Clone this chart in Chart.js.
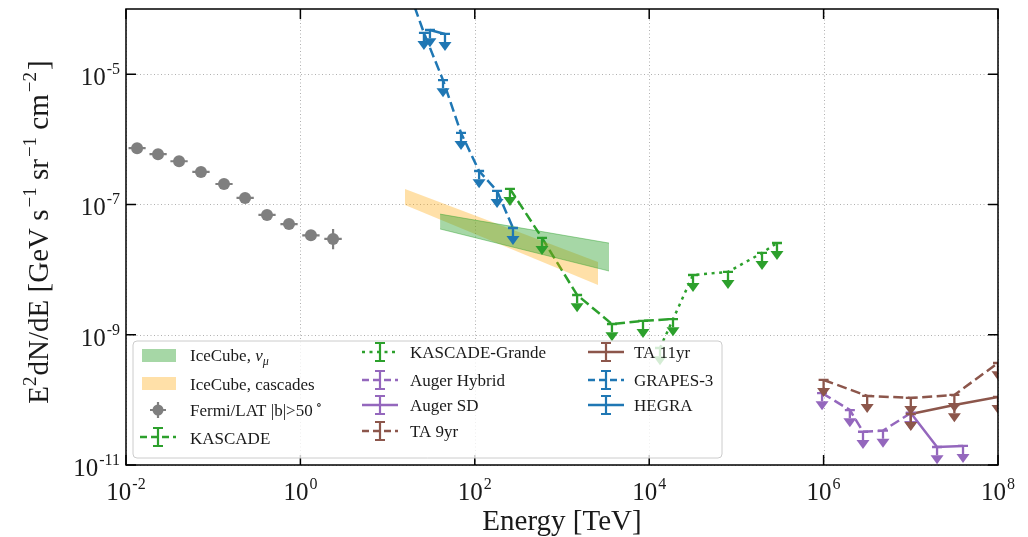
<!DOCTYPE html>
<html><head><meta charset="utf-8">
<script src="https://cdn.jsdelivr.net/npm/chart.js@4/dist/chart.umd.min.js"></script>
<style>html,body{margin:0;padding:0;background:#fff;}#wrap{width:1028px;height:537px;}</style>
</head><body><div id="wrap"><canvas id="c" width="1028" height="537"></canvas></div>
<script>
// ---------------- data ----------------
const xTickVals = [1e-2, 1, 1e2, 1e4, 1e6, 1e8];
const xTickExp  = ['-2', '0', '2', '4', '6', '8'];
const yTickVals = [1e-11, 1e-9, 1e-7, 1e-5];
const yTickExp  = ['-11', '-9', '-7', '-5'];

const iceMuE  = [40, 3460];
const iceMuHi = [7.1e-8, 2.55e-8];
const iceMuLo = [4.2e-8, 9.5e-9];

const iceCasE  = [15.8, 2590];
const iceCasHi = [1.73e-7, 1.31e-8];
const iceCasLo = [9.8e-8, 5.8e-9];

const fermiE   = [0.0134, 0.0233, 0.0406, 0.0724, 0.133, 0.232, 0.414, 0.74, 1.32, 2.37];
const fermiF   = [7.3e-7, 5.9e-7, 4.6e-7, 3.15e-7, 2.06e-7, 1.26e-7, 6.9e-8, 5.0e-8, 3.36e-8, 2.95e-8];
const fermiELo = [0.0107, 0.0186, 0.0323, 0.0576, 0.106, 0.185, 0.33, 0.59, 1.05, 1.88];
const fermiEHi = [0.0168, 0.0293, 0.051, 0.091, 0.167, 0.292, 0.52, 0.93, 1.66, 2.98];
const fermiFLo = [6.9e-7, 5.6e-7, 4.35e-7, 2.98e-7, 1.94e-7, 1.18e-7, 6.4e-8, 4.6e-8, 2.9e-8, 2.05e-8];
const fermiFHi = [7.7e-7, 6.2e-7, 4.85e-7, 3.32e-7, 2.18e-7, 1.34e-7, 7.4e-8, 5.4e-8, 3.85e-8, 4.2e-8];

const kascadeE = [253, 590, 1490, 3740, 8490, 18750];
const kascadeF = [1.73e-7, 3.06e-8, 4.07e-9, 1.46e-9, 1.63e-9, 1.74e-9];

const grandeE = [13300, 31800, 80100, 196700, 292000];
const grandeF = [6.25e-10, 8.26e-9, 9.19e-9, 1.80e-8, 2.56e-8];

const augerHybE = [9.6e5, 2.0e6, 2.83e6, 4.8e6, 1.0e7];
const augerHybF = [1.27e-10, 6.98e-11, 3.24e-11, 3.37e-11, 6.28e-11];

const augerSdE = [1.0e7, 2.0e7, 3.97e7];
const augerSdF = [6.28e-11, 1.89e-11, 1.96e-11];

const ta9E = [1.0e6, 3.16e6, 1.0e7, 3.16e7, 1.0e8];
const ta9F = [2.02e-10, 1.15e-10, 1.07e-10, 1.19e-10, 3.68e-10];

const ta11E = [1.0e7, 3.16e7, 1.0e8];
const ta11F = [6.07e-11, 8.34e-11, 1.11e-10];

const grapesE = [15.8, 26.1, 43.2, 69.5, 112, 180, 274];
const grapesF = [2.8e-4, 4.3e-5, 8.1e-6, 1.25e-6, 3.26e-7, 1.61e-7, 4.35e-8];

const hegraE = [30.6, 45.5];
const hegraF = [4.76e-5, 4.14e-5];

// ---------------- styles ----------------
const GREEN = '#2ca02c', PURPLE = '#9467bd', BROWN = '#8c564b', BLUE = '#1f77b4', GRAY = '#7f7f7f';
const BAND_G = 'rgba(44,160,44,0.42)', BAND_O = 'rgba(255,165,0,0.34)';
const DASH = [10, 4.5], DOT = [3, 4.6];
const SERIF = "'Liberation Serif','DejaVu Serif',serif";
const UL_FRAC = 0.75;

const pts = (xs, ys) => xs.map((v, i) => ({x: v, y: ys[i]}));
function lineDs(label, xs, ys, color, dash) {
  return {label, data: pts(xs, ys), borderColor: color, backgroundColor: color, borderWidth: 2.5,
    borderDash: dash, pointRadius: 0, showLine: true, fill: false, tension: 0, ul: true};
}

const datasets = [
  {label: 'IceCube, nu_mu', data: pts(iceMuE, iceMuHi), borderColor: BAND_G, backgroundColor: BAND_G, borderWidth: 1, pointRadius: 0, fill: '+1', tension: 0},
  {label: '_iceMuLo', data: pts(iceMuE, iceMuLo), borderColor: BAND_G, backgroundColor: BAND_G, borderWidth: 1, pointRadius: 0, fill: false, tension: 0},
  {label: 'IceCube, cascades', data: pts(iceCasE, iceCasHi), borderColor: BAND_O, backgroundColor: BAND_O, borderWidth: 0, pointRadius: 0, fill: '+1', tension: 0},
  {label: '_iceCasLo', data: pts(iceCasE, iceCasLo), borderColor: BAND_O, backgroundColor: BAND_O, borderWidth: 0, pointRadius: 0, fill: false, tension: 0},
  {label: 'Fermi/LAT', data: pts(fermiE, fermiF), showLine: false, pointRadius: 6, pointBackgroundColor: GRAY, pointBorderColor: GRAY, pointBorderWidth: 0, borderColor: GRAY, fermi: true},
  lineDs('KASCADE', kascadeE, kascadeF, GREEN, DASH),
  lineDs('KASCADE-Grande', grandeE, grandeF, GREEN, DOT),
  lineDs('Auger Hybrid', augerHybE, augerHybF, PURPLE, DASH),
  lineDs('Auger SD', augerSdE, augerSdF, PURPLE, []),
  lineDs('TA 9yr', ta9E, ta9F, BROWN, DASH),
  lineDs('TA 11yr', ta11E, ta11F, BROWN, []),
  lineDs('GRAPES-3', grapesE, grapesF, BLUE, DASH),
  lineDs('HEGRA', hegraE, hegraF, BLUE, []),
];

// ---------------- drawing helpers ----------------
function drawPow(ctx, base, exp, x, y, align, bf, ef, rise) {
  ctx.font = bf; const wb = ctx.measureText(base).width;
  ctx.font = ef; const we = ctx.measureText(exp).width;
  const tot = wb + we + 1;
  const x0 = align === 'center' ? x - tot / 2 : (align === 'right' ? x - tot : x);
  ctx.textAlign = 'left'; ctx.textBaseline = 'alphabetic';
  ctx.font = bf; ctx.fillText(base, x0, y);
  ctx.font = ef; ctx.fillText(exp, x0 + wb + 1, y - rise);
}
function drawSegs(ctx, segs, x, y, align) {
  let tot = 0;
  for (const s of segs) { ctx.font = s.f; tot += ctx.measureText(s.t).width + (s.gap || 0); }
  let cx = align === 'center' ? x - tot / 2 : x;
  ctx.textAlign = 'left'; ctx.textBaseline = 'alphabetic';
  for (const s of segs) { ctx.font = s.f; ctx.fillText(s.t, cx + (s.gap || 0), y - (s.rise || 0)); cx += ctx.measureText(s.t).width + (s.gap || 0); }
}
function ulMarks(ctx, X, Y, YL, color) {
  ctx.strokeStyle = color; ctx.fillStyle = color; ctx.lineWidth = 2.3; ctx.setLineDash([]);
  ctx.beginPath(); ctx.moveTo(X - 5, Y); ctx.lineTo(X + 5, Y); ctx.moveTo(X, Y); ctx.lineTo(X, YL); ctx.stroke();
  ctx.beginPath(); ctx.moveTo(X - 6.5, YL); ctx.lineTo(X + 6.5, YL); ctx.lineTo(X, YL + 9); ctx.closePath(); ctx.fill();
}
function legErr(ctx, x0, y, color, dash) {
  ctx.strokeStyle = color; ctx.lineWidth = 2.5; ctx.setLineDash(dash);
  ctx.beginPath(); ctx.moveTo(x0, y); ctx.lineTo(x0 + 36, y); ctx.stroke();
  ctx.setLineDash([]); ctx.lineWidth = 2.2;
  const cx = x0 + 18;
  ctx.beginPath(); ctx.moveTo(cx, y - 9); ctx.lineTo(cx, y + 9);
  ctx.moveTo(cx - 5, y - 9); ctx.lineTo(cx + 5, y - 9); ctx.moveTo(cx - 5, y + 9); ctx.lineTo(cx + 5, y + 9); ctx.stroke();
}

const decor = {
  id: 'decor',
  beforeDatasetsDraw(chart) {
    const {ctx, chartArea: a, scales: {x, y}} = chart;
    ctx.save();
    ctx.strokeStyle = '#b0b0b0'; ctx.lineWidth = 1; ctx.setLineDash([1, 2.5]);
    for (const t of xTickVals) { const X = Math.round(x.getPixelForValue(t)) + 0.5; ctx.beginPath(); ctx.moveTo(X, a.top); ctx.lineTo(X, a.bottom); ctx.stroke(); }
    for (const t of yTickVals) { const Y = Math.round(y.getPixelForValue(t)) + 0.5; ctx.beginPath(); ctx.moveTo(a.left, Y); ctx.lineTo(a.right, Y); ctx.stroke(); }
    ctx.setLineDash([]);
    ctx.strokeStyle = GRAY; ctx.lineWidth = 2.2;
    for (let i = 0; i < fermiE.length; i++) {
      const X = x.getPixelForValue(fermiE[i]), Y = y.getPixelForValue(fermiF[i]);
      ctx.beginPath();
      ctx.moveTo(x.getPixelForValue(fermiELo[i]), Y); ctx.lineTo(x.getPixelForValue(fermiEHi[i]), Y);
      ctx.moveTo(X, y.getPixelForValue(fermiFLo[i])); ctx.lineTo(X, y.getPixelForValue(fermiFHi[i]));
      ctx.stroke();
    }
    ctx.restore();
  },
  afterDatasetsDraw(chart) {
    const {ctx, chartArea: a, scales: {x, y}} = chart;
    ctx.save();
    ctx.beginPath(); ctx.rect(a.left, a.top, a.right - a.left, a.bottom - a.top); ctx.clip();
    chart.data.datasets.forEach(ds => {
      if (!ds.ul) return;
      ds.data.forEach(p => {
        const X = x.getPixelForValue(p.x), Y = y.getPixelForValue(p.y), YL = y.getPixelForValue(p.y * UL_FRAC);
        ulMarks(ctx, X, Y, YL, ds.borderColor);
      });
    });
    ctx.restore();

    ctx.save();
    ctx.strokeStyle = '#000'; ctx.lineWidth = 1.5; ctx.setLineDash([]);
    ctx.strokeRect(a.left, a.top, a.right - a.left, a.bottom - a.top);
    const TL = 10;
    ctx.beginPath();
    for (const t of xTickVals) { const X = x.getPixelForValue(t); ctx.moveTo(X, a.bottom); ctx.lineTo(X, a.bottom - TL); ctx.moveTo(X, a.top); ctx.lineTo(X, a.top + TL); }
    for (const t of yTickVals) { const Y = y.getPixelForValue(t); ctx.moveTo(a.left, Y); ctx.lineTo(a.left + TL, Y); ctx.moveTo(a.right, Y); ctx.lineTo(a.right - TL, Y); }
    ctx.stroke();
    ctx.fillStyle = '#1a1a1a';
    const BF = '25px ' + SERIF, EF = '16px ' + SERIF;
    xTickVals.forEach((t, i) => drawPow(ctx, '10', xTickExp[i], x.getPixelForValue(t), a.bottom + 35, 'center', BF, EF, 11));
    yTickVals.forEach((t, i) => drawPow(ctx, '10', yTickExp[i], a.left - 6, y.getPixelForValue(t) + 11, 'right', BF, EF, 11));
    ctx.font = '29px ' + SERIF; ctx.textAlign = 'center'; ctx.textBaseline = 'alphabetic';
    ctx.fillText('Energy [TeV]', (a.left + a.right) / 2, 530);
    ctx.save();
    ctx.translate(38, 232); ctx.rotate(-Math.PI / 2);
    const MF = '29px ' + SERIF, SF = '19px ' + SERIF;
    drawSegs(ctx, [
      {t: 'E', f: MF}, {t: '2', f: SF, rise: 12}, {t: 'dN/dE [GeV s', f: MF, gap: 1},
      {t: '\u22121', f: SF, rise: 12, gap: 2}, {t: ' sr', f: MF}, {t: '\u22121', f: SF, rise: 12, gap: 2},
      {t: ' cm', f: MF}, {t: '\u22122', f: SF, rise: 12, gap: 2}, {t: ']', f: MF, gap: 2}
    ], 0, 10, 'center');
    ctx.restore();

    // legend
    const L = {x: 133, y: 341, w: 589, h: 117};
    ctx.beginPath();
    if (ctx.roundRect) ctx.roundRect(L.x, L.y, L.w, L.h, 4); else ctx.rect(L.x, L.y, L.w, L.h);
    ctx.fillStyle = 'rgba(255,255,255,0.8)'; ctx.fill();
    ctx.strokeStyle = '#cccccc'; ctx.lineWidth = 1; ctx.stroke();

    const TF = '17px ' + SERIF, TIF = 'italic 17px ' + SERIF, SUBF = 'italic 12px ' + SERIF;
    ctx.fillStyle = BAND_G; ctx.fillRect(142, 349, 34, 13);
    ctx.fillStyle = BAND_O; ctx.fillRect(142, 377, 34, 13);
    ctx.strokeStyle = GRAY; ctx.fillStyle = GRAY; ctx.lineWidth = 2.2;
    ctx.beginPath(); ctx.moveTo(150, 410); ctx.lineTo(166, 410); ctx.moveTo(158, 402); ctx.lineTo(158, 418); ctx.stroke();
    ctx.beginPath(); ctx.arc(158, 410, 5.5, 0, Math.PI * 2); ctx.fill();
    legErr(ctx, 140, 437, GREEN, [7, 4]);
    ctx.fillStyle = '#1a1a1a';
    drawSegs(ctx, [{t: 'IceCube, ', f: TF}, {t: '\u03bd', f: TIF}, {t: '\u03bc', f: SUBF, rise: -4}], 190, 361, 'left');
    drawSegs(ctx, [{t: 'IceCube, cascades', f: TF}], 190, 390, 'left');
    drawSegs(ctx, [{t: 'Fermi/LAT |b|>50', f: TF}, {t: '\u2218', f: '13px ' + SERIF, rise: 7, gap: 3}], 190, 416, 'left');
    drawSegs(ctx, [{t: 'KASCADE', f: TF}], 190, 444, 'left');
    legErr(ctx, 362, 352, GREEN, [3, 4.5]);
    legErr(ctx, 362, 380, PURPLE, [7, 4]);
    legErr(ctx, 362, 405, PURPLE, []);
    legErr(ctx, 362, 431, BROWN, [7, 4]);
    ctx.fillStyle = '#1a1a1a';
    drawSegs(ctx, [{t: 'KASCADE-Grande', f: TF}], 410, 358, 'left');
    drawSegs(ctx, [{t: 'Auger Hybrid', f: TF}], 410, 386, 'left');
    drawSegs(ctx, [{t: 'Auger SD', f: TF}], 410, 411, 'left');
    drawSegs(ctx, [{t: 'TA 9yr', f: TF}], 410, 437, 'left');
    legErr(ctx, 588, 352, BROWN, []);
    legErr(ctx, 588, 380, BLUE, [7, 4]);
    legErr(ctx, 588, 405, BLUE, []);
    ctx.fillStyle = '#1a1a1a';
    drawSegs(ctx, [{t: 'TA 11yr', f: TF}], 634, 358, 'left');
    drawSegs(ctx, [{t: 'GRAPES-3', f: TF}], 634, 386, 'left');
    drawSegs(ctx, [{t: 'HEGRA', f: TF}], 634, 411, 'left');
    ctx.restore();
  }
};

new Chart(document.getElementById('c'), {
  type: 'line',
  data: {datasets},
  options: {
    responsive: false, animation: false, devicePixelRatio: 1,
    layout: {padding: {top: 9, right: 30, left: 0, bottom: 0}},
    plugins: {legend: {display: false}, tooltip: {enabled: false}},
    elements: {line: {borderCapStyle: 'butt'}},
    scales: {
      x: {type: 'logarithmic', min: 1e-2, max: 1e8, ticks: {display: false}, grid: {display: false}, border: {display: false},
          afterFit(s) { s.height = 72; }},
      y: {type: 'logarithmic', min: 1e-11, max: 1e-4, ticks: {display: false}, grid: {display: false}, border: {display: false},
          afterFit(s) { s.width = 126; }}
    }
  },
  plugins: [decor]
});
</script>
</body></html>
